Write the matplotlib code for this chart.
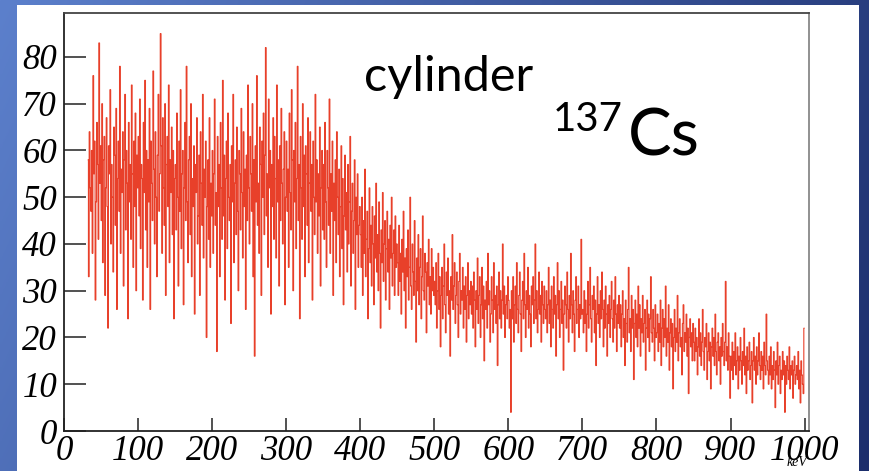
import numpy as np
import matplotlib
matplotlib.use("Agg")
import matplotlib.pyplot as plt
from matplotlib.patches import Rectangle

# ---- data: counts per 1 keV bin from 32 to 1000 keV ----
c_032 = [58, 33, 64, 52, 47, 60, 38, 76, 55, 62, 28, 49, 66, 57, 41, 83, 53, 61]
c_050 = [45, 70, 36, 58, 63, 29, 52, 67, 48, 22, 61, 55, 73, 40, 57, 50, 34, 65, 59, 44,
         69, 26, 54, 62, 47, 78, 38, 56, 51, 64, 31, 58, 72, 43, 60, 53, 24, 66, 49, 57,
         41, 74, 55, 35, 62, 48, 68, 30, 59, 52]
c_100 = [63, 46, 71, 39, 57, 54, 28, 66, 51, 75, 43, 60, 35, 58, 49, 69, 26, 62, 53, 45,
         77, 56, 40, 64, 50, 33, 59, 72, 47, 55, 85, 61, 38, 67, 52, 44, 70, 29, 57, 63,
         48, 74, 36, 58, 51, 65, 42, 60, 24, 54]
c_150 = [57, 43, 68, 50, 31, 62, 47, 73, 39, 55, 60, 27, 52, 66, 45, 78, 49, 36, 58, 63,
         42, 70, 33, 54, 48, 61, 25, 57, 51, 67, 40, 46, 59, 29, 64, 53, 44, 72, 37, 56,
         50, 62, 20, 48, 58, 41, 67, 35, 53, 46]
c_200 = [60, 38, 55, 71, 44, 51, 17, 63, 48, 57, 33, 66, 52, 41, 75, 46, 59, 28, 54, 62,
         39, 68, 50, 45, 57, 23, 61, 49, 72, 36, 53, 58, 42, 65, 47, 30, 60, 55, 43, 69,
         51, 37, 64, 48, 56, 26, 59, 45, 74, 52]
c_250 = [40, 63, 55, 47, 70, 33, 58, 16, 61, 49, 76, 44, 53, 38, 65, 57, 29, 62, 50, 68,
         42, 59, 82, 46, 55, 35, 71, 52, 60, 25, 57, 48, 67, 41, 63, 54, 37, 74, 49, 58,
         31, 61, 45, 69, 53, 40, 56, 64, 27, 50]
c_300 = [62, 47, 56, 35, 68, 51, 43, 73, 58, 30, 60, 49, 66, 39, 54, 78, 45, 57, 24, 63,
         52, 41, 70, 48, 59, 33, 61, 55, 44, 67, 36, 53, 64, 47, 57, 28, 62, 50, 42, 72,
         49, 58, 38, 55, 46, 65, 31, 52, 60, 43]
c_350 = [57, 41, 66, 49, 35, 60, 52, 44, 71, 38, 55, 47, 62, 29, 53, 45, 58, 36, 64, 50,
         42, 56, 33, 48, 61, 39, 54, 27, 46, 59, 43, 51, 34, 57, 40, 49, 63, 31, 47, 53,
         38, 45, 58, 26, 50, 42, 55, 35, 44, 48]
c_400 = [42, 35, 50, 29, 45, 38, 56, 33, 41, 47, 24, 39, 52, 36, 44, 31, 48, 40, 27, 46,
         37, 53, 34, 42, 30, 49, 38, 22, 43, 36, 51, 32, 40, 45, 28, 39, 47, 34, 41, 26,
         44, 37, 50, 31, 38, 43, 29, 46, 35, 40]
c_450 = [36, 29, 44, 32, 38, 25, 41, 34, 47, 30, 37, 22, 39, 33, 43, 28, 35, 50, 31, 26,
         40, 34, 29, 45, 32, 19, 37, 30, 42, 27, 35, 39, 24, 33, 46, 30, 28, 38, 34, 21,
         36, 31, 41, 27, 33, 25, 39, 30, 35, 29]
c_500 = [32, 27, 36, 22, 30, 38, 26, 33, 18, 29, 35, 24, 31, 40, 27, 21, 34, 29, 37, 25,
         30, 16, 33, 28, 42, 26, 31, 36, 23, 29, 34, 27, 20, 32, 38, 25, 30, 28, 35, 22,
         31, 26, 33, 19, 29, 36, 24, 30, 27, 32]
c_550 = [25, 31, 22, 34, 28, 18, 30, 26, 37, 23, 29, 33, 20, 27, 35, 24, 31, 15, 28, 26,
         32, 22, 38, 27, 30, 19, 25, 33, 28, 21, 36, 26, 29, 23, 31, 14, 27, 34, 24, 30,
         22, 28, 40, 25, 31, 20, 27, 29, 24, 33]
c_600 = [28, 22, 26, 4, 30, 24, 33, 19, 27, 31, 23, 36, 26, 21, 29, 34, 25, 17, 28, 32,
         24, 38, 27, 20, 30, 26, 35, 22, 29, 25, 18, 31, 27, 33, 23, 28, 40, 24, 30, 21,
         26, 34, 25, 29, 19, 32, 27, 23, 31, 26]
c_650 = [24, 30, 21, 27, 35, 23, 28, 18, 31, 26, 22, 33, 25, 29, 16, 27, 36, 24, 30, 20,
         26, 32, 23, 28, 13, 25, 31, 27, 22, 34, 26, 19, 29, 24, 38, 27, 21, 30, 25, 17,
         28, 33, 23, 26, 31, 20, 27, 24, 41, 25]
c_700 = [26, 21, 30, 23, 28, 17, 25, 32, 22, 27, 35, 24, 19, 29, 26, 31, 21, 28, 14, 25,
         33, 23, 27, 20, 30, 24, 34, 26, 18, 28, 22, 31, 25, 16, 27, 23, 29, 20, 26, 32,
         24, 19, 28, 22, 33, 25, 17, 27, 23, 29]
c_750 = [22, 27, 18, 25, 30, 20, 24, 14, 28, 23, 19, 26, 35, 21, 24, 17, 29, 22, 26, 11,
         23, 28, 20, 25, 18, 31, 22, 27, 16, 24, 21, 29, 19, 23, 26, 13, 22, 28, 20, 25,
         17, 24, 33, 21, 19, 26, 22, 15, 27, 20]
c_800 = [21, 25, 17, 23, 19, 28, 14, 22, 26, 18, 24, 20, 31, 16, 22, 19, 27, 13, 21, 24,
         18, 23, 9, 20, 26, 17, 22, 19, 29, 15, 21, 24, 18, 20, 12, 23, 27, 17, 21, 19,
         25, 16, 22, 8, 20, 24, 18, 21, 15, 23]
c_850 = [19, 15, 22, 17, 20, 12, 18, 24, 16, 21, 14, 19, 26, 17, 13, 20, 18, 23, 11, 17,
         21, 15, 19, 9, 18, 22, 16, 20, 14, 25, 17, 12, 19, 21, 15, 18, 10, 20, 16, 23,
         17, 14, 19, 32, 15, 18, 13, 21, 16, 7]
c_900 = [16, 13, 19, 11, 17, 14, 21, 12, 15, 18, 9, 16, 13, 20, 15, 10, 17, 14, 22, 12,
         16, 8, 18, 13, 15, 19, 11, 14, 17, 6, 15, 20, 13, 16, 10, 18, 12, 15, 21, 14,
         11, 17, 13, 16, 9, 19, 14, 12, 25, 15]
c_950 = [13, 10, 16, 12, 18, 9, 14, 11, 17, 13, 5, 15, 12, 19, 10, 14, 16, 8, 13, 11,
         17, 12, 15, 4, 14, 10, 16, 13, 11, 18, 9, 14, 12, 15, 7, 13, 16, 10, 12, 14,
         11, 17, 9, 13, 6, 15, 12, 10, 8, 22]

counts = (c_032 + c_050 + c_100 + c_150 + c_200 + c_250 + c_300 + c_350 + c_400 +
          c_450 + c_500 + c_550 + c_600 + c_650 + c_700 + c_750 + c_800 + c_850 +
          c_900 + c_950)
e_min, e_max = 32, 1000

x_ticks = [0, 100, 200, 300, 400, 500, 600, 700, 800, 900, 1000]
y_ticks = [0, 10, 20, 30, 40, 50, 60, 70, 80]
title_text = "cylinder"
iso_mass = "137"
iso_name = "Cs"
x_unit = "keV"

W, H = 869, 471
fig = plt.figure(figsize=(W / 100, H / 100), dpi=100)

# slide background gradient
bg = fig.add_axes([0, 0, 1, 1], zorder=-10)
gx = np.linspace(0, 1, 300)[None, :]
gy = np.linspace(0, 1, 160)[:, None]
t = np.clip(0.8 * gx + 0.2 * gy, 0, 1)
c0 = np.array([92, 128, 204]) / 255.0
c1 = np.array([28, 46, 108]) / 255.0
img = c0[None, None, :] * (1 - t[..., None]) + c1[None, None, :] * t[..., None]
bg.imshow(img, aspect="auto", extent=[0, 1, 0, 1], origin="upper")
bg.set_axis_off()

# white panel
fig.add_artist(Rectangle((17 / W, 0), (859 - 17) / W, (H - 5) / H,
                         transform=fig.transFigure, facecolor="white",
                         edgecolor="none", zorder=-5))

ax = fig.add_axes([64 / W, (H - 431) / H, (809 - 64) / W, (431 - 13) / H])
ax.set_facecolor("white")
edges = np.linspace(e_min, e_max, len(counts) + 1)
ax.stairs(counts, edges, color="#e8402a", linewidth=0.8, baseline=None)

ax.set_xlim(0, 1006)
ax.set_ylim(0, 89.4)
ax.set_xticks(x_ticks)
ax.set_yticks(y_ticks)
ax.set_xticklabels([str(v) for v in x_ticks])
ax.set_yticklabels([str(v) for v in y_ticks])
ax.tick_params(axis="y", direction="in", length=16, width=1.2, color="#333333", pad=5)
ax.tick_params(axis="x", direction="in", length=9.5, width=1.2, color="#333333", pad=3)
for lab in ax.get_yticklabels():
    lab.set_fontfamily("Liberation Serif")
    lab.set_fontstyle("italic")
    lab.set_fontsize(25)
for lab in ax.get_xticklabels():
    lab.set_fontfamily("Liberation Serif")
    lab.set_fontstyle("italic")
    lab.set_fontsize(25)
ax.spines["left"].set_color("#222222")
ax.spines["bottom"].set_color("#222222")
ax.spines["top"].set_color("#444444")
ax.spines["right"].set_color("#888888")
for s in ax.spines.values():
    s.set_linewidth(1.3)

fig.text(807 / W, (H - 466) / H, x_unit, fontfamily="Liberation Serif",
         fontstyle="italic", fontsize=10, ha="right", va="baseline")

fig.text(364 / W, (H - 91) / H, title_text, fontfamily="Lato", fontsize=35,
         ha="left", va="baseline", color="black")
fig.text(553 / W, (H - 131) / H, iso_mass, fontfamily="Lato", fontsize=29,
         ha="left", va="baseline", color="black")
fig.text(628 / W, (H - 155) / H, iso_name, fontfamily="Lato", fontsize=47,
         ha="left", va="baseline", color="black")

fig.savefig("out.png", dpi=100)
